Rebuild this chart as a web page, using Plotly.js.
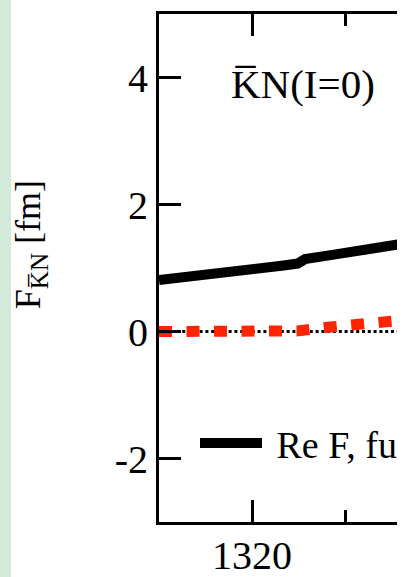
<!DOCTYPE html>
<html>
<head>
<meta charset="utf-8">
<script src="https://cdn.plot.ly/plotly-3.0.1.min.js"></script>
<style>
  html, body { margin: 0; padding: 0; background: #ffffff; overflow: hidden; width: 413px; height: 577px; }
  #strip { position: absolute; left: 0; top: 0; width: 11px; height: 577px; background: #d3e9da; z-index: 2; }
  #clip { position: absolute; left: 0; top: 0; width: 397px; height: 577px; overflow: hidden; }
  #chart { width: 700px; height: 577px; }
</style>
</head>
<body>
<div id="clip"><div id="chart"></div></div>
<div id="strip"></div>
<script>
// Data (energy in MeV, F in fm)
const energyRe = [1310, 1312.7, 1316.3, 1319.8, 1323.4, 1324.9, 1325.7, 1328.8, 1332.3, 1335.6, 1337];
const reFull   = [0.81, 0.85, 0.90, 0.96, 1.04, 1.07, 1.14, 1.21, 1.29, 1.37, 1.40];
const energyIm = [1310, 1315, 1320, 1325, 1328.4, 1331.4, 1334.3, 1337];
const imFull   = [0.00, 0.00, 0.00, 0.01, 0.07, 0.11, 0.16, 0.19];
const energyZero = [1310, 1360];
const zeroLine   = [0, 0];
const xTickVals = [1320, 1340, 1360];
const xTickText = ['1320', '1340', '1360'];
const yTickVals = [-2, 0, 2, 4];
const yTickText = ['-2', '0', '2', '4'];

const serif = '"Liberation Serif", "Times New Roman", serif';

const traces = [
  { x: energyZero, y: zeroLine, mode: 'lines', showlegend: false, hoverinfo: 'skip',
    line: { color: '#000000', width: 3, dash: '3px,2.8px' } },
  { x: energyRe, y: reFull, mode: 'lines', name: '\u2005Re F, full',
    line: { color: '#000000', width: 10 } },
  { x: energyIm, y: imFull, mode: 'lines', name: 'Im F, full', showlegend: false,
    line: { color: '#ff2400', width: 11, dash: '13px,14.5px' } }
];

function axisCommon() {
  return {
    showline: true, linecolor: '#000000', linewidth: 3,
    ticks: 'inside', tickcolor: '#000000', tickwidth: 3, ticklen: 22,
    mirror: 'ticks', showgrid: false, zeroline: false,
    tickfont: { family: serif, size: 40, color: '#000000' }
  };
}

const layout = {
  width: 700, height: 577,
  margin: { l: 159, r: 76, t: 14, b: 55 },
  font: { family: serif, color: '#000000' },
  paper_bgcolor: '#ffffff', plot_bgcolor: '#ffffff',
  xaxis: Object.assign(axisCommon(), {
    range: [1310, 1360], tickmode: 'array', tickvals: xTickVals, ticktext: xTickText,
    ticklabelstandoff: -4,
    minor: { tickmode: 'linear', dtick: 10, tick0: 1300, ticks: 'inside', ticklen: 12, tickwidth: 3, tickcolor: '#000000', showgrid: false }
  }),
  yaxis: Object.assign(axisCommon(), {
    range: [-3, 5], tickmode: 'array', tickvals: yTickVals, ticktext: yTickText
  }),
  showlegend: true,
  legend: {
    x: (200 - 159 - 5) / 465, y: (-1.76 - (-3)) / 8, xref: 'paper', yref: 'paper',
    xanchor: 'left', yanchor: 'middle',
    bgcolor: 'rgba(0,0,0,0)', borderwidth: 0,
    itemwidth: 62,
    font: { family: serif, size: 38, color: '#000000' }
  },
  annotations: [
    { text: 'K\u0305N(I=0)', xref: 'x', yref: 'y', x: 1317.5, y: 3.9,
      xanchor: 'left', yanchor: 'middle', showarrow: false,
      font: { family: serif, size: 41, color: '#000000' } },
    { text: 'F<sub>K\u0305N</sub> [fm]', xref: 'paper', yref: 'y', x: -0.277, y: 1.36,
      xanchor: 'center', yanchor: 'middle', textangle: -90, showarrow: false,
      font: { family: serif, size: 36, color: '#000000' } }
  ]
};

Plotly.newPlot('chart', traces, layout, { displayModeBar: false, staticPlot: true });
</script>
</body>
</html>
